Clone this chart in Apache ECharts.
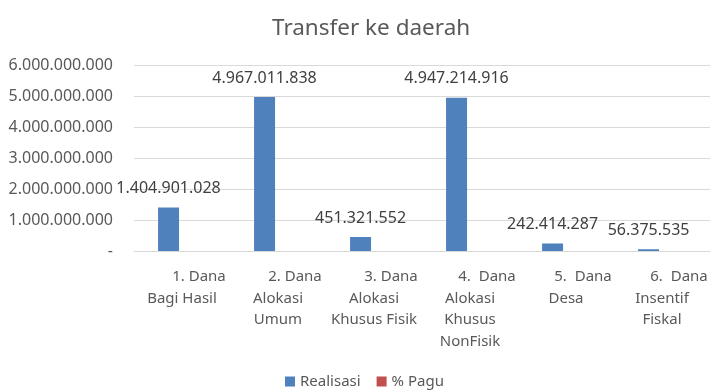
<!DOCTYPE html>
<html>
<head>
<meta charset="utf-8">
<script src="https://cdn.jsdelivr.net/npm/echarts@6/dist/echarts.min.js"></script>
<style>html,body{margin:0;padding:0;background:#fff}#c{width:721px;height:390px}</style>
</head>
<body>
<div id="c"></div>
<script>
const categoriesLine1 = ['1. Dana', '2. Dana', '3. Dana', '4.  Dana', '5.  Dana', '6.  Dana'];
const categoriesRest = ['Bagi Hasil', 'Alokasi\nUmum', 'Alokasi\nKhusus Fisik', 'Alokasi\nKhusus\nNonFisik', 'Desa', 'Insentif\nFiskal'];
const realisasi = [1404901028, 4967011838, 451321552, 4947214916, 242414287, 56375535];
const persenPagu = [0.95, 0.98, 0.72, 0.97, 0.99, 0.98];
const yTicks = [0, 1000000000, 2000000000, 3000000000, 4000000000, 5000000000, 6000000000];

const categories = categoriesLine1.map((a, i) => a + '|' + categoriesRest[i]);
const fmt = v => v === 0 ? '-' : String(Math.round(v)).replace(/\B(?=(\d{3})+(?!\d))/g, '.');
const FONT = '"Noto Sans", sans-serif';

const chart = echarts.init(document.getElementById('c'));
chart.setOption({
  animation: false,
  title: {
    text: 'Transfer ke daerah',
    left: 267,
    top: 12,
    textStyle: { fontFamily: FONT, fontSize: 22.5, fontWeight: 'normal', color: '#595959' }
  },
  legend: {
    top: 369,
    left: 280,
    itemWidth: 10,
    itemHeight: 10,
    itemGap: 16,
    icon: 'rect',
    textStyle: { fontFamily: FONT, fontSize: 15, color: '#595959' },
    data: ['Realisasi', '% Pagu']
  },
  grid: { left: 134, right: 11, top: 65, bottom: 139, containLabel: false },
  xAxis: {
    type: 'category',
    data: categories,
    axisLine: { lineStyle: { color: '#D9D9D9', width: 1 } },
    axisTick: { show: false },
    axisLabel: {
      interval: 0,
      margin: 15,
      formatter: v => {
        const p = v.split('|');
        return '{a|' + p[0] + '}\n' + p[1].split('\n').map(s => '{b|' + s + '}').join('\n');
      },
      rich: {
        a: { fontFamily: FONT, fontSize: 15, color: '#595959', lineHeight: 21.5, padding: [0, 0, 0, 34] },
        b: { fontFamily: FONT, fontSize: 15, color: '#595959', lineHeight: 21.5 }
      }
    }
  },
  yAxis: {
    type: 'value',
    min: 0,
    max: 6000000000,
    interval: 1000000000,
    axisLine: { show: false },
    axisTick: { show: false },
    splitLine: { lineStyle: { color: '#D9D9D9', width: 1 } },
    axisLabel: {
      margin: 21,
      fontFamily: FONT,
      fontSize: 16,
      color: '#595959',
      customValues: yTicks,
      formatter: v => fmt(v)
    }
  },
  series: [
    {
      name: 'Realisasi',
      type: 'bar',
      data: realisasi,
      barWidth: 21,
      barGap: '28%',
      itemStyle: { color: '#4F81BD' },
      label: {
        show: true,
        position: 'top',
        distance: 11,
        fontFamily: FONT,
        fontSize: 16,
        color: '#404040',
        formatter: p => fmt(p.value)
      }
    },
    {
      name: '% Pagu',
      type: 'bar',
      data: persenPagu,
      barWidth: 21,
      itemStyle: { color: '#C0504D' },
      label: { show: false }
    }
  ]
});
</script>
</body>
</html>
